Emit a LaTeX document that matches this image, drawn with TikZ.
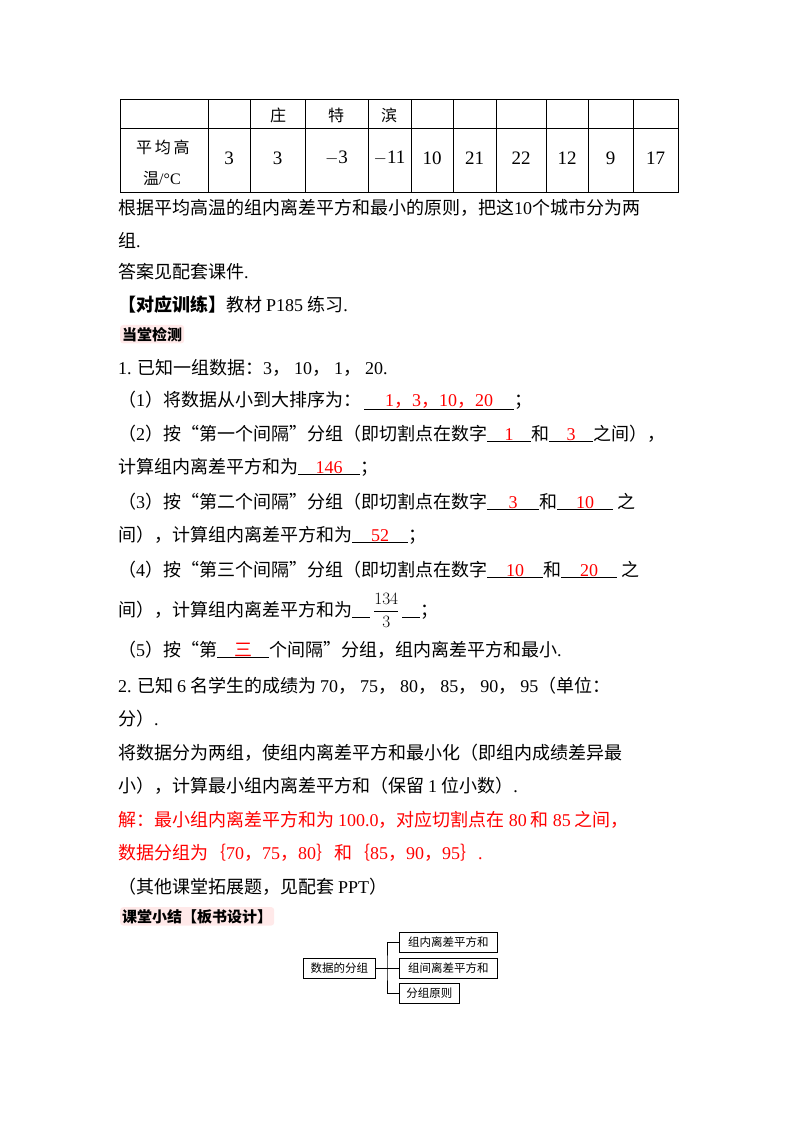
\documentclass[tikz,border=0pt]{standalone}
\usepackage{fontspec}
\setmainfont{Noto Sans CJK SC}
\newfontfamily\lat{Liberation Serif}
\newcommand{\La}[1]{{\lat #1}}
\newcommand{\R}[1]{{\color{red}#1}}
\newcommand{\bl}[2]{\underline{\makebox[#1pt]{\color{red}#2}}}
\begin{document}
\begin{tikzpicture}[x=1pt,y=-1pt,
  tx/.style={anchor=base west,inner sep=0pt,font=\fontsize{18}{20}\selectfont},
  tag/.style={anchor=base west,inner sep=2pt,fill=pink!35,rounded corners=3pt,font=\fontsize{15}{17}\selectfont\bfseries},
  bx/.style={draw,thick,inner sep=2pt,font=\fontsize{11.5}{13}\selectfont,anchor=west}]
\useasboundingbox (0,0) rectangle (800,1132);
% table
\draw[thick] (120,99) rectangle (678,192);
\draw[thick] (120,128) -- (678,128);
\foreach \x in {208,250,305,368,411,453,496,546,588,633} \draw[thick] (\x,99) -- (\x,192);
\node[tx,font=\fontsize{16}{18}\selectfont] (h1) at (270,121) {庄};
\node[tx,font=\fontsize{16}{18}\selectfont] (h2) at (328,121) {特};
\node[tx,font=\fontsize{16}{18}\selectfont] (h3) at (381,121) {滨};
\node[tx,font=\fontsize{16}{18}\selectfont] (r1) at (136,153) {平\,均\,高};
\node[tx,font=\fontsize{16}{18}\selectfont] (r2) at (143,184) {温\La{/°C}};
\foreach \v/\x in {3/229,3/277.5,$-$3/336.5,$-$11/389.5,10/432,21/474.5,22/521,12/567,9/610.5,17/655.5}
  \node[font=\lat\fontsize{19}{21}\selectfont,inner sep=0] at (\x,158) {\v};
% text
\node[tx] (l1) at (118,214) {根据平均高温的组内离差平方和最小的原则，把这\La{10}个城市分为两};
\node[tx] (l2) at (118,247) {组\La{.}};
\node[tx] (l3) at (118,278) {答案见配套课件\La{.}};
\node[tx] (l4) at (118,311) {\textbf{【对应训练】}教材 \La{P185} 练习\La{.}};
\node[tag] (t1) at (120,340) {当堂检测};
\node[tx] (l5) at (118,374) {\La{1.} 已知一组数据：\La{3}，\ \La{10}，\ \La{1}，\ \La{20.}};
\node[tx] (l6) at (118,406) {（\La{1}）将数据从小到大排序为：\,\bl{150}{\La{1}，\La{3}，\La{10}，\La{20}}；};
\node[tx] (l7) at (118,440) {（\La{2}）按“第一个间隔”分组（即切割点在数字\bl{44}{\La{1}}和\bl{44}{\La{3}}之间），};
\node[tx] (l8) at (118,473) {计算组内离差平方和为\bl{62}{\La{146}}；};
\node[tx] (l9) at (118,508) {（\La{3}）按“第二个间隔”分组（即切割点在数字\bl{52}{\La{3}}和\bl{56}{\La{10}}\ 之};
\node[tx] (l10) at (118,541) {间），计算组内离差平方和为\bl{56}{\La{52}}；};
\node[tx] (l11) at (118,576) {（\La{4}）按“第三个间隔”分组（即切割点在数字\bl{56}{\La{10}}和\bl{56}{\La{20}}\ 之};
\node[tx] (l12) at (118,616) {间），计算组内离差平方和为\underline{\hspace{18pt}}\,{\lat $\displaystyle\frac{134}{3}$}\,\underline{\hspace{18pt}}；};
\node[tx] (l13) at (118,656) {（\La{5}）按“第\bl{52}{三}个间隔”分组，组内离差平方和最小\La{.}};
\node[tx] (l14) at (118,692) {\La{2.} 已知 \La{6} 名学生的成绩为 \La{70}，\ \La{75}，\ \La{80}，\ \La{85}，\ \La{90}，\ \La{95}（单位：};
\node[tx] (l15) at (118,725) {分）\La{.}};
\node[tx] (l16) at (118,759) {将数据分为两组，使组内离差平方和最小化（即组内成绩差异最};
\node[tx] (l17) at (118,792) {小），计算最小组内离差平方和（保留 \La{1} 位小数）\La{.}};
\node[tx] (l18) at (118,826) {\R{解：最小组内离差平方和为 \La{100.0}，对应切割点在 \La{80} 和 \La{85} 之间，}};
\node[tx] (l19) at (118,859) {\R{数据分组为｛\La{70}，\La{75}，\La{80}｝和｛\La{85}，\La{90}，\La{95}｝\La{.}}};
\node[tx] (l20) at (118,893) {（其他课堂拓展题，见配套 \La{PPT}）};
\node[tag] (t2) at (120,922) {课堂小结【板书设计】};
% diagram
\node[bx,minimum width=72pt,minimum height=20pt] (m) at (303,968) {数据的分组};
\node[bx,minimum width=98pt,minimum height=20pt] (b1) at (399,942) {组内离差平方和};
\node[bx,minimum width=98pt,minimum height=20pt] (b2) at (399,968) {组间离差平方和};
\node[bx,minimum width=60pt,minimum height=20pt] (b3) at (399,993) {分组原则};
\coordinate (v) at (387,968);
\draw (m.east) -- (b2.west);
\draw (b1.west) -| (v) |- (b3.west);
\end{tikzpicture}
\end{document}
